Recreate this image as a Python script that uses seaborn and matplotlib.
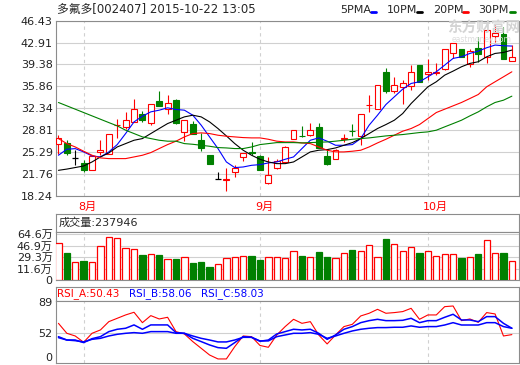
import numpy as np
import pandas as pd
import matplotlib
matplotlib.use("Agg")
import matplotlib.pyplot as plt
from matplotlib.lines import Line2D
import seaborn as sns

# Daily K-line of 多氟多[002407], 2015-07-29 .. 2015-10-22
opens = [26.61, 26.72, 24.30, 23.49, 22.41, 25.27, 25.00, 29.55, 29.31, 30.11,
         31.46, 30.00, 33.56, 32.27, 33.61, 28.50, 29.74, 27.15, 24.73, 20.96,
         20.80, 22.09, 24.51, 25.20, 24.57, 20.31, 22.74, 23.65, 27.42, 27.89,
         28.07, 29.25, 24.57, 24.19, 27.31, 28.65, 27.85, 32.78, 32.11, 38.08,
         35.07, 35.66, 35.88, 39.27, 37.76, 38.05, 38.57, 41.15, 41.85, 39.38,
         41.96, 40.61, 44.01, 44.22, 39.97]
highs = [27.96, 27.15, 25.64, 23.92, 24.84, 27.15, 28.23, 30.65, 31.73, 33.76,
         31.89, 33.07, 35.07, 34.42, 33.88, 30.49, 30.22, 28.39, 24.84, 22.04,
         22.68, 23.11, 25.16, 26.88, 24.84, 24.46, 24.19, 26.18, 28.87, 29.41,
         29.95, 29.95, 25.81, 25.81, 28.23, 29.84, 31.35, 34.42, 36.04, 38.73,
         37.38, 36.85, 39.27, 39.27, 40.24, 39.54, 41.80, 42.77, 41.85, 41.80,
         43.85, 44.92, 45.73, 45.46, 42.50]
lows = [25.00, 24.73, 23.22, 22.04, 22.41, 24.73, 25.00, 27.53, 28.93, 30.11,
        30.11, 29.58, 32.70, 31.46, 29.84, 27.00, 28.12, 25.43, 23.33, 20.96,
        18.97, 21.23, 23.81, 24.73, 22.41, 20.15, 22.47, 23.65, 27.42, 27.69,
        27.85, 25.97, 23.11, 24.08, 26.88, 27.85, 26.34, 31.73, 32.11, 34.69,
        34.69, 33.07, 35.23, 36.47, 36.85, 37.65, 38.46, 40.35, 40.61, 39.00,
        39.81, 39.54, 43.04, 40.18, 39.97]
closes = [27.47, 25.16, 24.30, 22.41, 24.62, 25.64, 28.23, 29.60, 30.49, 32.11,
          30.38, 33.07, 32.70, 33.18, 30.00, 30.49, 28.12, 25.97, 23.33, 20.96,
          20.96, 22.74, 25.16, 25.16, 22.41, 21.60, 23.81, 26.07, 28.87, 27.85,
          28.77, 25.97, 23.27, 25.54, 27.53, 28.61, 31.35, 32.81, 36.04, 35.07,
          36.04, 36.41, 38.19, 36.47, 38.08, 38.08, 41.80, 42.77, 40.61, 41.53,
          40.99, 44.92, 44.38, 40.18, 40.51]

ma5 = [24.73, 25.70, 25.80, 25.27, 24.62, 24.46, 25.27, 26.45, 28.23, 30.11,
       31.03, 31.73, 32.00, 32.38, 32.11, 32.00, 31.19, 29.58, 27.69, 25.81,
       23.65, 22.74, 22.84, 23.11, 23.22, 23.49, 23.65, 24.08, 24.46, 25.81,
       27.15, 27.53, 27.00, 26.34, 26.34, 26.45, 27.42, 29.58, 31.19, 32.91,
       34.15, 35.39, 36.31, 36.58, 37.38, 38.19, 39.27, 40.35, 40.61, 41.15,
       41.53, 42.07, 42.50, 42.39, 42.34]
ma10 = [22.30, 22.50, 22.75, 23.00, 23.65, 24.46, 25.10, 26.07, 26.61, 27.15,
        27.42, 28.23, 29.04, 29.84, 30.38, 30.92, 31.19, 30.92, 30.11, 29.04,
        27.85, 26.61, 25.54, 24.73, 24.08, 23.65, 23.38, 23.38, 23.65, 24.46,
        25.27, 25.54, 25.64, 25.91, 26.34, 26.77, 27.42, 28.23, 29.04, 29.68,
        30.38, 31.46, 33.07, 34.42, 35.77, 36.58, 37.65, 38.30, 39.00, 39.54,
        39.81, 40.61, 41.15, 41.31, 41.69]
ma20 = [27.42, 26.61, 26.07, 25.38, 24.73, 24.30, 24.19, 24.19, 24.19, 24.46,
        24.73, 25.16, 25.81, 26.45, 27.00, 27.69, 28.23, 28.34, 28.23, 27.96,
        27.80, 27.69, 27.58, 27.53, 27.53, 27.31, 27.00, 26.88, 26.88, 26.72,
        26.61, 26.07, 25.54, 25.27, 25.27, 25.38, 25.54, 26.07, 26.72, 27.31,
        27.96, 28.61, 29.04, 29.68, 30.65, 31.62, 32.16, 32.70, 33.24, 33.88,
        34.53, 35.77, 36.58, 37.38, 38.19]
ma30 = [33.24, 32.70, 32.16, 31.62, 31.08, 30.54, 30.00, 29.47, 28.77, 28.23,
        27.69, 27.42, 27.15, 27.00, 27.00, 26.61, 26.50, 26.34, 26.18, 25.97,
        25.91, 25.81, 25.81, 26.07, 26.45, 26.61, 26.77, 26.77, 26.77, 26.72,
        26.77, 26.83, 26.88, 27.00, 27.15, 27.31, 27.42, 27.53, 27.69, 27.85,
        27.96, 28.07, 28.23, 28.39, 28.50, 28.77, 29.31, 29.84, 30.38, 31.08,
        31.73, 32.54, 33.24, 33.61, 34.26]

# volume in 万 (10k)
volumes = [50.4, 35.3, 22.7, 23.2, 21.7, 46.4, 59.5, 58.0, 42.9, 41.4,
           32.8, 33.8, 32.8, 26.2, 26.7, 29.3, 20.7, 22.2, 14.6, 18.7,
           27.7, 29.3, 30.8, 30.8, 25.2, 29.3, 29.3, 27.7, 38.3, 31.3,
           29.3, 37.3, 29.8, 27.7, 35.3, 40.3, 38.3, 47.4, 29.3, 57.0,
           48.9, 38.3, 44.4, 35.8, 38.3, 30.8, 33.8, 33.8, 28.7, 29.3,
           34.3, 55.0, 35.3, 35.8, 23.79]

rsi_a = [63.9, 52.0, 48.8, 41.3, 52.0, 56.0, 65.9, 69.9, 73.9, 77.1,
         64.7, 73.1, 69.1, 71.1, 54.0, 51.2, 42.1, 34.1, 26.1, 21.4,
         21.4, 36.1, 48.8, 48.0, 37.5, 35.3, 50.0, 60.0, 68.7, 63.9,
         65.9, 50.0, 39.3, 50.0, 60.0, 62.7, 72.7, 75.9, 80.6, 75.9,
         76.7, 77.9, 81.8, 68.7, 73.9, 73.9, 83.8, 84.6, 67.1, 69.1,
         65.1, 76.7, 75.1, 48.8, 50.43]
rsi_b = [48.0, 44.0, 44.0, 40.9, 45.6, 48.0, 54.0, 56.8, 58.0, 62.0,
         56.8, 62.0, 62.0, 62.0, 52.8, 52.0, 46.0, 42.1, 38.1, 34.9,
         34.1, 40.9, 48.0, 47.2, 42.5, 44.0, 51.2, 54.0, 56.8, 56.0,
         56.8, 52.0, 44.8, 50.0, 56.8, 60.0, 64.7, 67.1, 68.7, 67.1,
         67.1, 67.5, 69.9, 64.7, 67.1, 67.1, 71.1, 74.7, 67.9, 67.9,
         65.9, 71.9, 71.9, 63.9, 58.06]
rsi_c = [46.8, 44.0, 43.2, 41.7, 44.8, 46.0, 48.8, 50.8, 52.0, 52.8,
         52.0, 54.0, 54.0, 54.0, 52.0, 52.0, 48.8, 46.0, 44.0, 41.7,
         41.7, 44.0, 47.2, 47.2, 42.9, 42.9, 48.0, 50.0, 52.0, 52.0,
         52.8, 50.8, 46.0, 48.8, 52.0, 54.8, 56.8, 58.0, 58.8, 58.8,
         59.2, 59.2, 60.8, 59.2, 60.0, 60.0, 61.9, 64.7, 61.9, 61.9,
         61.9, 64.7, 64.7, 60.0, 58.03]

month_labels = ["8月", "9月", "10月"]
month_starts = [3, 24, 44]
price_ticks = [18.24, 21.76, 25.29, 28.81, 32.34, 35.86, 39.38, 42.91, 46.43]
vol_ticks = [11.6, 29.3, 46.9, 64.6]
vol_tick_labels = ["11.6万", "29.3万", "46.9万", "64.6万"]
rsi_ticks = [52, 89]

RED = "#ff0000"
GREEN = "#008000"
BLUE = "#0000ff"
GRID = "#d0d0d0"
FRAME = "#8c8c8c"

sns.set_style("white")
plt.rcParams['font.family'] = ['DejaVu Sans', 'Noto Sans CJK SC']

df = pd.DataFrame(dict(day=np.arange(len(closes)), open=opens, high=highs,
                       low=lows, close=closes, vol=volumes, ma5=ma5,
                       ma10=ma10, ma20=ma20, ma30=ma30, rsi_a=rsi_a,
                       rsi_b=rsi_b, rsi_c=rsi_c))

fig = plt.figure(figsize=(5.2, 3.65), dpi=100)
L, W = 55.5 / 520, 463.5 / 520


def box(top, bottom):
    return [L, 1 - bottom / 365, W, (bottom - top) / 365]


def frame(a):
    for s in a.spines.values():
        s.set_color(FRAME)
        s.set_linewidth(0.8)
    a.tick_params(length=0, labelsize=8, pad=2, labelcolor="#222222")
    a.set_xlim(-0.35, 54.85)
    a.set_xticks([])
    a.set_xlabel("")
    a.set_ylabel("")


ax = fig.add_axes(box(20.7, 195.5))
hv = fig.add_axes(box(214.3, 231.7))
axv = fig.add_axes(box(231.7, 280.0))
hr = fig.add_axes(box(287.3, 300.7))
axr = fig.add_axes(box(300.7, 363.3))

# ---- price panel
up = (df.close > df.open).values
down = (df.close < df.open).values
flat = (df.close == df.open).values
wick_col = np.where(up, RED, np.where(down, GREEN, "black"))
ax.vlines(df.day, df.low, df.high, colors=wick_col, lw=0.8, zorder=2)
body_bot = np.minimum(df.open, df.close)
body_h = (df.close - df.open).abs()
ax.bar(df.day[up], body_h[up], bottom=body_bot[up], width=0.7,
       facecolor="white", edgecolor=RED, lw=0.8, zorder=3)
ax.bar(df.day[down], body_h[down], bottom=body_bot[down], width=0.7,
       facecolor=GREEN, edgecolor=GREEN, lw=0.8, zorder=3)
ax.hlines(df.close[flat], df.day[flat] - 0.38, df.day[flat] + 0.38,
          colors="black", lw=0.9, zorder=3)

for col, c in [("ma5", BLUE), ("ma10", "black"), ("ma20", RED), ("ma30", GREEN)]:
    sns.lineplot(data=df, x="day", y=col, color=c, lw=0.8, ax=ax, zorder=4)

ax.set_ylim(18.24, 46.43)
ax.set_yticks(price_ticks)
ax.set_yticklabels([f"{t:.2f}" for t in price_ticks])
frame(ax)
ax.grid(axis="y", color=GRID, lw=0.8)
for m, lab in zip(month_starts, month_labels):
    for a in (ax, axv, axr):
        a.axvline(m, color=GRID, lw=0.8, ls=(0, (3, 3)), zorder=0)
    ax.text(m - 0.6, -0.065, lab, color=RED, fontsize=8,
            transform=ax.get_xaxis_transform(), ha="left", va="center")

# watermark
fig.text(447 / 520, 1 - 28 / 365, "东方财富网", fontsize=10.5, color="#d4d4d4",
         fontweight="bold", ha="left", va="center", zorder=0)
fig.text(452 / 520, 1 - 39 / 365, "eastmoney.com", fontsize=5.5, color="#dddddd",
         ha="left", va="center", zorder=0)

# ---- volume panel
vol_up = (df.close >= df.open).values
vol_floor = -5.0
axv.bar(df.day[vol_up], df.vol[vol_up] - vol_floor, bottom=vol_floor, width=0.75,
        facecolor="white", edgecolor=RED, lw=0.9, zorder=3)
axv.bar(df.day[~vol_up], df.vol[~vol_up] - vol_floor, bottom=vol_floor, width=0.75,
        facecolor=GREEN, edgecolor=GREEN, lw=0.9, zorder=3)
axv.set_ylim(vol_floor, 68.1)
axv.set_yticks([vol_floor] + vol_ticks)
axv.set_yticklabels(["0"] + vol_tick_labels)
frame(axv)
for t in vol_ticks:
    axv.axhline(t, color=GRID, lw=0.8, zorder=0)

frame(hv)
hv.set_yticks([])
hv.text(0.006, 0.5, "成交量:237946", fontsize=8, transform=hv.transAxes,
        ha="left", va="center")

# ---- RSI panel
sns.lineplot(data=df, x="day", y="rsi_a", color=RED, lw=0.8, ax=axr)
sns.lineplot(data=df, x="day", y="rsi_b", color=BLUE, lw=1.1, ax=axr)
sns.lineplot(data=df, x="day", y="rsi_c", color=BLUE, lw=1.1, ax=axr)
axr.set_ylim(16.2, 90.9)
axr.set_yticks([16.2] + rsi_ticks)
axr.set_yticklabels(["0"] + [str(t) for t in rsi_ticks])
frame(axr)
axr.get_yticklabels()[0].set_va("bottom")
axr.axhline(52, color=GRID, lw=0.8, zorder=0)

frame(hr)
hr.set_yticks([])
for xpx, txt, c in [(57, "RSI_A:50.43", RED), (129, "RSI_B:58.06", BLUE),
                    (201, "RSI_C:58.03", BLUE)]:
    fig.text(xpx / 520, 1 - 294 / 365, txt, color=c, fontsize=7.5,
             ha="left", va="center")

# ---- title and legend
fig.text(57 / 520, 1 - 10 / 365, "多氟多[002407] 2015-10-22 13:05", fontsize=8.5,
         ha="left", va="center")
for xt, txt, xl, c in [(340, "5PMA", 371, BLUE), (387, "10PM", 417, "black"),
                       (433, "20PM", 463, RED), (478, "30PM", 510, GREEN)]:
    fig.text(xt / 520, 1 - 10 / 365, txt, fontsize=8, ha="left", va="center")
    fig.add_artist(Line2D([xl / 520, (xl + 5) / 520], [1 - 11.5 / 365] * 2,
                          color=c, lw=2, transform=fig.transFigure))

fig.savefig("out.png", dpi=100)
